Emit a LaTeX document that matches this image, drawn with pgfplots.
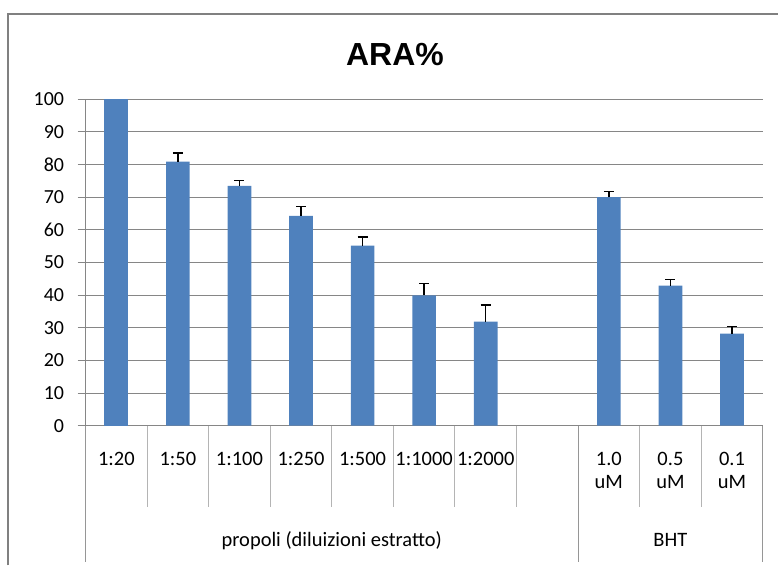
\documentclass[border=0pt]{standalone}
\usepackage{pgfplots}
\pgfplotsset{compat=1.18}
\usepackage{fontspec}
\setmainfont{Carlito}
\newfontfamily\titlefont{Liberation Sans}
\definecolor{barc}{RGB}{79,129,189}
\definecolor{gridc}{RGB}{134,134,134}
\definecolor{sepc}{RGB}{180,180,180}
\definecolor{grpc}{RGB}{150,150,150}
\definecolor{framec}{RGB}{128,128,128}
\begin{document}
\begin{tikzpicture}
\begin{axis}[
  at={(0,0)}, anchor=south west,
  scale only axis, width=678.5pt, height=327pt,
  xmin=-0.5, xmax=10.5, ymin=0, ymax=100,
  ybar, bar width=23.7pt,
  axis x line*=bottom, axis y line*=left,
  axis line style={draw=gridc, line width=1pt},
  xtick=\empty,
  ytick={0,10,...,100},
  ymajorgrids, grid style={gridc, line width=1pt},
  tick style={gridc, line width=1pt},
  tick align=outside, major tick length=8pt,
  yticklabel style={font=\fontsize{20}{20}\selectfont, xshift=-10pt, /pgf/number format/assume math mode=true},
  clip=false,
]
\addplot[fill=barc, draw=none, bar shift=0pt] coordinates {(0,100)};
\addplot[fill=barc, draw=none, bar shift=0pt,
  error bars/.cd, y dir=plus, y explicit,
  error bar style={black, line width=1.4pt},
  error mark options={black, line width=1.4pt, mark size=5pt, rotate=90}]
  coordinates {
  (1,80.9) +- (0,2.7)
  (2,73.5) +- (0,1.7)
  (3,64.3) +- (0,2.9)
  (4,55.2) +- (0,2.6)
  (5,39.9) +- (0,3.7)
  (6,31.9) +- (0,5.1)
  (8,70.0) +- (0,1.8)
  (9,42.9) +- (0,1.9)
  (10,28.2) +- (0,2.2)
  };
\end{axis}
% category separators
\foreach \k in {1,...,10} \draw[sepc, line width=1pt] ({\k*61.68pt},0) -- ({\k*61.68pt},-81.5pt);
\foreach \k in {0,8,11} \draw[grpc, line width=1pt] ({\k*61.68pt},0) -- ({\k*61.68pt},-136.5pt);
% category labels
\begin{scope}[every node/.style={anchor=base, inner sep=0pt, font=\fontsize{20.5}{20.5}\selectfont}]
\node at ({0.5*61.68pt},-40pt) {1:20};
\node at ({1.5*61.68pt},-40pt) {1:50};
\node at ({2.5*61.68pt},-40pt) {1:100};
\node at ({3.5*61.68pt},-40pt) {1:250};
\node at ({4.5*61.68pt},-40pt) {1:500};
\node at ({5.5*61.68pt},-40pt) {1:1000};
\node at ({6.5*61.68pt},-40pt) {1:2000};
\node at ({8.5*61.68pt},-40pt) {1.0};
\node at ({8.5*61.68pt},-63pt) {uM};
\node at ({9.5*61.68pt},-40pt) {0.5};
\node at ({9.5*61.68pt},-63pt) {uM};
\node at ({10.5*61.68pt},-40pt) {0.1};
\node at ({10.5*61.68pt},-63pt) {uM};
\node at ({4*61.68pt},-121pt) {propoli (diluizioni estratto)};
\node at ({9.5*61.68pt},-121pt) {BHT};
\end{scope}
% title
\node[anchor=base, inner sep=0pt, font=\titlefont\bfseries\fontsize{32}{32}\selectfont] at (310pt,361pt) {ARA\%};
% frame
\draw[framec, line width=1.5pt] (-77.5pt,-140pt) -- (-77.5pt,412.5pt) -- (694pt,412.5pt);
\path[use as bounding box] (-85.7pt,-139.5pt) rectangle (693.3pt,426.5pt);
\end{tikzpicture}
\end{document}
